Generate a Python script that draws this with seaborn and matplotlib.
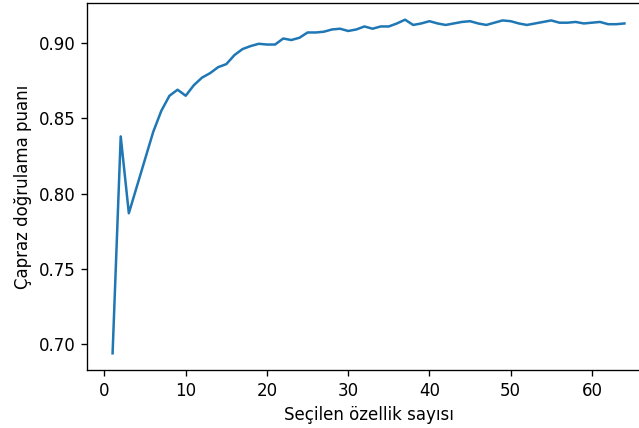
import matplotlib
matplotlib.use("Agg")
import matplotlib.pyplot as plt
import seaborn as sns

# number of selected features vs. cross-validation score
n_features = list(range(1, 65))
cv_scores = [
    0.694, 0.838, 0.787, 0.805, 0.823, 0.841, 0.855, 0.865, 0.869, 0.865,
    0.872, 0.877, 0.880, 0.884, 0.886, 0.892, 0.896, 0.898, 0.8995, 0.899,
    0.899, 0.903, 0.902, 0.9035, 0.907, 0.907, 0.9075, 0.909, 0.9095, 0.908,
    0.909, 0.911, 0.9095, 0.911, 0.911, 0.913, 0.9155, 0.912, 0.913, 0.9145,
    0.913, 0.912, 0.913, 0.914, 0.9145, 0.913, 0.912, 0.9135, 0.915, 0.9145,
    0.913, 0.912, 0.913, 0.914, 0.915, 0.9135, 0.9135, 0.914, 0.913, 0.9135,
    0.914, 0.9125, 0.9125, 0.913,
]

x_label = "Seçilen özellik sayısı"
y_label = "Çapraz doğrulama puanı"

DPI = 120
fig = plt.figure(figsize=(639 / DPI, 428 / DPI), dpi=DPI)
# the original screenshot is cut off on the right, so the axes run past the edge
ax = fig.add_axes([87 / 639, 58 / 428, 563 / 639, 367 / 428])
sns.lineplot(x=n_features, y=cv_scores, color="#1f77b4", linewidth=1.5, ax=ax)
ax.set_xlabel(x_label, fontsize=10)
ax.set_ylabel(y_label, fontsize=10)
ax.set_xticks([0, 10, 20, 30, 40, 50, 60])
ax.set_yticks([0.70, 0.75, 0.80, 0.85, 0.90])

fig.savefig("out.png", dpi=DPI)
plt.close(fig)
